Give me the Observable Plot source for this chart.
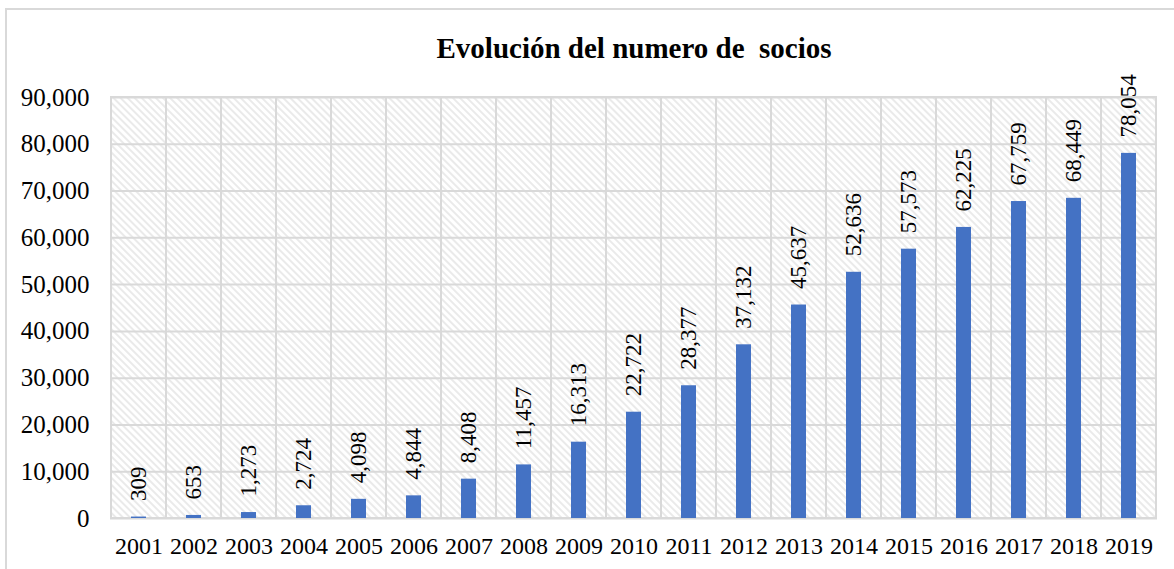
<!DOCTYPE html>
<html>
<head>
<meta charset="utf-8">
<script src="https://cdn.jsdelivr.net/npm/d3@7"></script>
<script src="https://cdn.jsdelivr.net/npm/@observablehq/plot@0.6"></script>
<style>
  html, body { margin: 0; padding: 0; background: #fff; }
  #wrap { position: relative; width: 1174px; height: 569px; overflow: hidden; }
  #border { position: absolute; left: 5px; top: 8px; width: 1200px; height: 600px; border: 2px solid #d9d9d9; box-sizing: border-box; }
  #chart { position: absolute; left: 0; top: 0; }
  #chart svg text { font-family: 'Liberation Serif', 'Times New Roman', serif; }
</style>
</head>
<body>
<div id="wrap"><div id="border"></div><div id="chart"></div></div>
<script>
const title = "Evolución del numero de  socios";
const years = ["2001","2002","2003","2004","2005","2006","2007","2008","2009","2010","2011","2012","2013","2014","2015","2016","2017","2018","2019"];
const socios = [309, 653, 1273, 2724, 4098, 4844, 8408, 11457, 16313, 22722, 28377, 37132, 45637, 52636, 57573, 62225, 67759, 68449, 78054];
const yTicks = [0, 10000, 20000, 30000, 40000, 50000, 60000, 70000, 80000, 90000];

const data = years.map((y, i) => ({year: y, value: socios[i]}));
const fmt = d3.format(",");
const font = "'Liberation Serif', 'Times New Roman', serif";

const plot = Plot.plot({
  width: 1174,
  height: 569,
  marginLeft: 110,
  marginRight: 17,
  marginTop: 97,
  marginBottom: 51,
  style: {fontFamily: font, fontSize: "23px", color: "#000", background: "transparent"},
  x: {domain: years, padding: 0, label: null, tickSize: 0, tickPadding: 18},
  y: {domain: [0, 90000], ticks: yTicks, tickFormat: fmt, label: null, tickSize: 0, tickPadding: 21},
  marks: [
    Plot.barY(years, {x: d => d, y1: 0, y2: 90000, fill: "url(#hatch)", stroke: "#d9d9d9", strokeWidth: 2, inset: 0}),
    Plot.ruleY(yTicks, {stroke: "#d9d9d9", strokeWidth: 2}),
    Plot.barY(data, {x: "year", y: "value", fill: "#4472C4", insetLeft: 20, insetRight: 20}),
    Plot.axisY({ticks: yTicks, tickFormat: fmt, tickSize: 0, tickPadding: 21, fontSize: 25, fontFamily: font, label: null}),
    Plot.axisX({tickSize: 0, tickPadding: 18, fontSize: 24, fontFamily: font, label: null}),
    Plot.text(data, {x: "year", y: "value", text: d => fmt(d.value), rotate: -90, textAnchor: "start", dy: -16, fontSize: 23, fontFamily: font, fill: "#000"}),
    Plot.text([title], {frameAnchor: "top", dy: -60, text: d => d, fontSize: 29, fontFamily: font, fontWeight: "bold", fill: "#000"})
  ]
});

const ns = "http://www.w3.org/2000/svg";
const defs = document.createElementNS(ns, "defs");
defs.innerHTML = '<pattern id="hatch" patternUnits="userSpaceOnUse" width="5" height="5" patternTransform="rotate(-45)"><rect width="5" height="5" fill="#ffffff"/><line x1="1" y1="0" x2="1" y2="5" stroke="#dcdcdc" stroke-width="1.2"/></pattern>';
plot.insertBefore(defs, plot.firstChild);
document.getElementById("chart").appendChild(plot);
</script>
</body>
</html>
